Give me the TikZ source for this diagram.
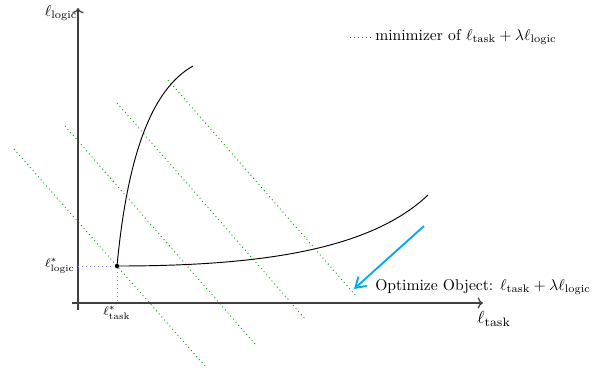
\documentclass[tikz,border=0pt]{standalone}
\usepackage{amsmath}
\usetikzlibrary{arrows.meta}

\definecolor{optblue}{RGB}{0,170,235}
\tikzset{
  minline/.style={green!65!black, dotted, semithick},
  guide/.style={blue!45, dotted, semithick},
  optarrow/.style={optblue, very thick, -{Straight Barb[length=2.2mm, width=2.8mm]}},
}

\begin{document}
\begin{tikzpicture}[x=0.0225cm, y=-0.0225cm]
  \useasboundingbox (0,0) rectangle (598,372);

  \coordinate (XS) at (72,303);
  \coordinate (XE) at (483,303);
  \coordinate (YS) at (78,310);
  \coordinate (YE) at (78,8);
  \coordinate (P)  at (117,266);
  \coordinate (PX) at (117,303);
  \coordinate (PY) at (78,266);
  \coordinate (C1) at (193,66);
  \coordinate (C2) at (428,195);

  % level lines of the objective
  \coordinate (L1a) at (14,149);  \coordinate (L1b) at (205,366);
  \coordinate (L2a) at (65,126);  \coordinate (L2b) at (255,344);
  \coordinate (L3a) at (117,103); \coordinate (L3b) at (306,320);
  \coordinate (L4a) at (168,80);  \coordinate (L4b) at (356,296);
  \draw[minline] (L1a)--(L1b) (L2a)--(L2b) (L3a)--(L3b) (L4a)--(L4b);

  % axes
  \draw[thick, black!75, -{To[length=1.2mm]}] (XS)--(XE);
  \draw[thick, black!75, -{To[length=1.2mm]}] (YS)--(YE);
  \draw[guide] (PY)--(P)--(PX);

  % pareto front
  \draw[semithick] (P) .. controls (127,160) and (150,90) .. (C1);
  \draw[semithick] (P) .. controls (260,266) and (370,250) .. (C2);
  \fill (P) circle (2.2);

  % optimisation direction
  \coordinate (AS) at (424,226);
  \coordinate (AE) at (354,289);
  \draw[optarrow] (AS)--(AE);

  % legend
  \coordinate (G1) at (350,37);
  \coordinate (G2) at (371,37);
  \draw[minline] (G1)--(G2);
  \node[anchor=west, inner sep=0pt] (legend) at (375,37) {minimizer of $\ell_{\text{task}}+\lambda\ell_{\text{logic}}$};

  \node[anchor=west, inner sep=0pt] (opt) at (375,287) {Optimize Object: $\ell_{\text{task}}+\lambda\ell_{\text{logic}}$};
  \node (ylab) at (61,13) {$\ell_{\text{logic}}$};
  \node[scale=1.12] (xlab) at (494,319) {$\ell_{\text{task}}$};
  \node[left, font=\footnotesize, inner sep=2pt] (pylab) at (PY) {$\ell^*_{\text{logic}}$};
  \node[below, font=\footnotesize, inner sep=2pt] (pxlab) at (PX) {$\ell^*_{\text{task}}$};
\end{tikzpicture}
\end{document}
